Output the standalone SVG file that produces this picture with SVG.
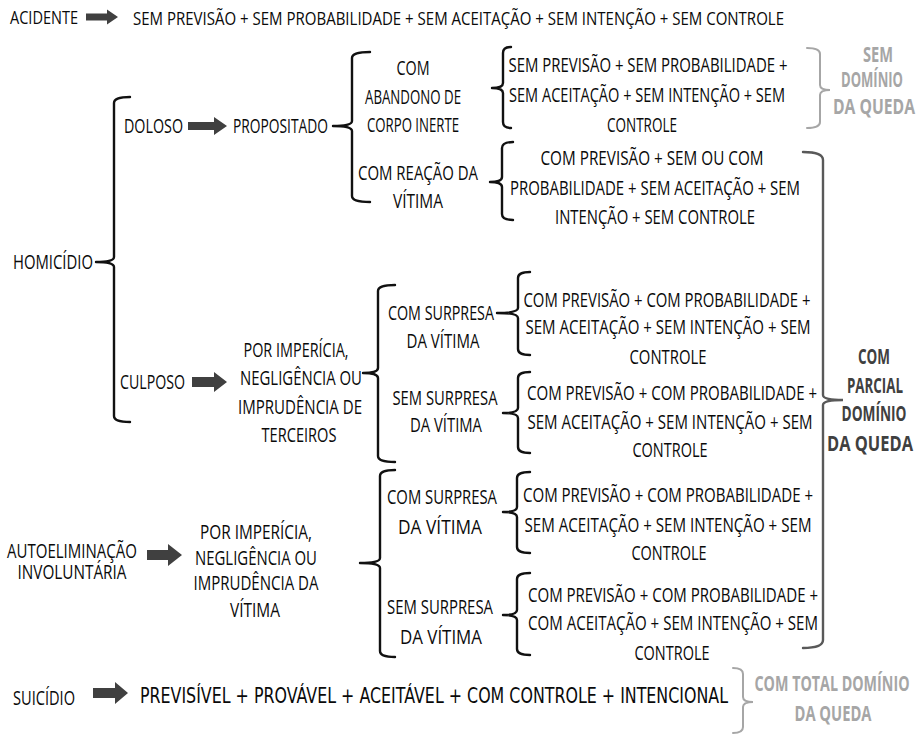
<svg xmlns="http://www.w3.org/2000/svg" width="920" height="736" viewBox="0 0 920 736">
<style>
.t{font-family:"Open Sans","Noto Sans","Liberation Sans",sans-serif;font-size:19.5px;fill:#0a0a0a}
.s{font-size:19px}
.c{text-anchor:middle}
.w{font-family:"DejaVu Sans","Liberation Sans",sans-serif;font-size:20.5px;fill:#0a0a0a}
.gl{font-family:"Open Sans","Noto Sans","Liberation Sans",sans-serif;font-weight:bold;font-size:20.5px;fill:#a6a6a6;text-anchor:middle}
.gd{font-family:"Open Sans","Noto Sans","Liberation Sans",sans-serif;font-weight:bold;font-size:20.5px;fill:#404040;text-anchor:middle}
.br{fill:none;stroke:#111;stroke-width:2.4;stroke-linecap:round;stroke-linejoin:round}
.bgl{fill:none;stroke:#a6a6a6;stroke-width:2;stroke-linecap:round}
.bgd{fill:none;stroke:#595959;stroke-width:2.4;stroke-linecap:round}
.ar{fill:#404040}
</style>
<rect width="920" height="736" fill="#fff"/>
<g id="connectors">
<path class="ar" d="M86 13.5 H107 V9.5 L118 17 L107 24.5 V20.5 H86 Z"/>
<path class="ar" d="M188 122 H214 V117 L227 126 L214 135 V130 H188 Z"/>
<path class="ar" d="M192 377 H214 V372 L227 382 L214 392 V387 H192 Z"/>
<path class="ar" d="M147 550 H168 V544 L182 555 L168 566 V560 H147 Z"/>
<path class="ar" d="M93 688 H115 V682 L128 693 L115 704 V698 H93 Z"/>
<path class="br" d="M130 97 Q114 97 114 103 V257 Q114 262 96 262 Q114 262 114 267 V416 Q114 422 130 422"/>
<path class="br" d="M370 52 Q352 52 352 58 V121 Q352 126 333 126 Q352 126 352 131 V196 Q352 202 370 202"/>
<path class="br" d="M511 47 Q503 47 503 53 V83 Q503 88 492 88 Q503 88 503 93 V122 Q503 128 511 128"/>
<path class="br" d="M513 142 Q502 142 502 148 V177 Q502 182 490 182 Q502 182 502 187 V214 Q502 220 513 220"/>
<path class="br" d="M395 285 Q378 285 378 291 V368 Q378 373 363 373 Q378 373 378 378 V456 Q378 462 395 462"/>
<path class="br" d="M530 272 Q518 272 518 278 V308 Q518 313 497 313 Q518 313 518 318 V349 Q518 355 530 355"/>
<path class="br" d="M530 372 Q518 372 518 378 V408 Q518 413 503 413 Q518 413 518 418 V447 Q518 453 530 453"/>
<path class="br" d="M395 470 Q380 470 380 476 V558 Q380 563 360 563 Q380 563 380 568 V651 Q380 657 395 657"/>
<path class="br" d="M530 472 Q517 472 517 478 V507 Q517 512 503 512 Q517 512 517 517 V547 Q517 553 530 553"/>
<path class="br" d="M530 573 Q517 573 517 579 V610 Q517 615 503 615 Q517 615 517 620 V649 Q517 655 530 655"/>
<path class="bgl" d="M807 48 Q820 48 820 54 V85 Q820 90 830 90 Q820 90 820 95 V122 Q820 128 807 128"/>
<path class="bgd" d="M803 152 Q823 152 823 160 V395 Q823 400 843 400 Q823 400 823 405 V640 Q823 648 803 648"/>
<path class="bgl" d="M733 668 Q743 668 743 674 V697 Q743 702 753 702 Q743 702 743 707 V727 Q743 733 733 733"/>
</g>
<g id="acidente">
<text class="t s" x="10" y="24" textLength="68" lengthAdjust="spacingAndGlyphs">ACIDENTE</text>
</g>
<g id="acidente-desc">
<text class="t s" x="133" y="24.5" textLength="651" lengthAdjust="spacingAndGlyphs">SEM PREVISÃO + SEM PROBABILIDADE + SEM ACEITAÇÃO + SEM INTENÇÃO + SEM CONTROLE</text>
</g>
<g id="homicidio">
<text class="t" x="13" y="269" textLength="80" lengthAdjust="spacingAndGlyphs">HOMICÍDIO</text>
</g>
<g id="doloso">
<text class="t" x="124" y="132.5" textLength="59" lengthAdjust="spacingAndGlyphs">DOLOSO</text>
</g>
<g id="propositado">
<text class="t" x="233" y="132.5" textLength="95" lengthAdjust="spacingAndGlyphs">PROPOSITADO</text>
</g>
<g id="abandono">
<text class="t c" x="413" y="75" textLength="33" lengthAdjust="spacingAndGlyphs">COM</text>
<text class="t c" x="413" y="104" textLength="96" lengthAdjust="spacingAndGlyphs">ABANDONO DE</text>
<text class="t c" x="413" y="132" textLength="92" lengthAdjust="spacingAndGlyphs">CORPO INERTE</text>
</g>
<g id="reacao">
<text class="t c" x="418" y="180" textLength="120" lengthAdjust="spacingAndGlyphs">COM REAÇÃO DA</text>
<text class="t c" x="418" y="208" textLength="50" lengthAdjust="spacingAndGlyphs">VÍTIMA</text>
</g>
<g id="abandono-desc">
<text class="t c" x="648" y="72" textLength="279" lengthAdjust="spacingAndGlyphs">SEM PREVISÃO + SEM PROBABILIDADE +</text>
<text class="t c" x="647" y="102" textLength="276" lengthAdjust="spacingAndGlyphs">SEM ACEITAÇÃO + SEM INTENÇÃO + SEM</text>
<text class="t c" x="642" y="132" textLength="70" lengthAdjust="spacingAndGlyphs">CONTROLE</text>
</g>
<g id="reacao-desc">
<text class="t c" x="652" y="165" textLength="223" lengthAdjust="spacingAndGlyphs">COM PREVISÃO + SEM OU COM</text>
<text class="t c" x="655" y="195" textLength="290" lengthAdjust="spacingAndGlyphs">PROBABILIDADE + SEM ACEITAÇÃO + SEM</text>
<text class="t c" x="655" y="224" textLength="200" lengthAdjust="spacingAndGlyphs">INTENÇÃO + SEM CONTROLE</text>
</g>
<g id="sem-dominio">
<text class="gl" x="878" y="62" textLength="30" lengthAdjust="spacingAndGlyphs">SEM</text>
<text class="gl" x="872" y="87" textLength="62" lengthAdjust="spacingAndGlyphs">DOMÍNIO</text>
<text class="gl" x="874" y="113.5" textLength="82" lengthAdjust="spacingAndGlyphs">DA QUEDA</text>
</g>
<g id="culposo">
<text class="t" x="120" y="389" textLength="65" lengthAdjust="spacingAndGlyphs">CULPOSO</text>
</g>
<g id="terceiros">
<text class="t c" x="296" y="357" textLength="105" lengthAdjust="spacingAndGlyphs">POR IMPERÍCIA,</text>
<text class="t c" x="301" y="385" textLength="122" lengthAdjust="spacingAndGlyphs">NEGLIGÊNCIA OU</text>
<text class="t c" x="300" y="414" textLength="124" lengthAdjust="spacingAndGlyphs">IMPRUDÊNCIA DE</text>
<text class="t c" x="299" y="442" textLength="75" lengthAdjust="spacingAndGlyphs">TERCEIROS</text>
</g>
<g id="culp-com-surpresa">
<text class="t c" x="441" y="319.5" textLength="106" lengthAdjust="spacingAndGlyphs">COM SURPRESA</text>
<text class="t c" x="443" y="348" textLength="73" lengthAdjust="spacingAndGlyphs">DA VÍTIMA</text>
</g>
<g id="culp-sem-surpresa">
<text class="t c" x="445" y="404.5" textLength="105" lengthAdjust="spacingAndGlyphs">SEM SURPRESA</text>
<text class="t c" x="446" y="432" textLength="72" lengthAdjust="spacingAndGlyphs">DA VÍTIMA</text>
</g>
<g id="culp-com-desc">
<text class="t c" x="667" y="306.5" textLength="287" lengthAdjust="spacingAndGlyphs">COM PREVISÃO + COM PROBABILIDADE +</text>
<text class="t c" x="668" y="333.5" textLength="285" lengthAdjust="spacingAndGlyphs">SEM ACEITAÇÃO + SEM INTENÇÃO + SEM</text>
<text class="t c" x="668" y="363.5" textLength="77" lengthAdjust="spacingAndGlyphs">CONTROLE</text>
</g>
<g id="culp-sem-desc">
<text class="t c" x="672" y="400" textLength="290" lengthAdjust="spacingAndGlyphs">COM PREVISÃO + COM PROBABILIDADE +</text>
<text class="t c" x="670" y="429" textLength="285" lengthAdjust="spacingAndGlyphs">SEM ACEITAÇÃO + SEM INTENÇÃO + SEM</text>
<text class="t c" x="670" y="457" textLength="75" lengthAdjust="spacingAndGlyphs">CONTROLE</text>
</g>
<g id="com-parcial">
<text class="gd" x="874" y="364" textLength="32" lengthAdjust="spacingAndGlyphs">COM</text>
<text class="gd" x="875" y="392.5" textLength="56" lengthAdjust="spacingAndGlyphs">PARCIAL</text>
<text class="gd" x="874" y="420.5" textLength="65" lengthAdjust="spacingAndGlyphs">DOMÍNIO</text>
<text class="gd" x="870" y="450.5" textLength="86" lengthAdjust="spacingAndGlyphs">DA QUEDA</text>
</g>
<g id="autoeliminacao">
<text class="t c" x="72" y="557.5" textLength="130" lengthAdjust="spacingAndGlyphs">AUTOELIMINAÇÃO</text>
<text class="t c" x="72" y="579" textLength="109" lengthAdjust="spacingAndGlyphs">INVOLUNTÁRIA</text>
</g>
<g id="vitima-causa">
<text class="t c" x="256" y="539" textLength="112" lengthAdjust="spacingAndGlyphs">POR IMPERÍCIA,</text>
<text class="t c" x="256" y="565" textLength="122" lengthAdjust="spacingAndGlyphs">NEGLIGÊNCIA OU</text>
<text class="t c" x="256" y="590" textLength="125" lengthAdjust="spacingAndGlyphs">IMPRUDÊNCIA DA</text>
<text class="t c" x="255" y="617" textLength="50" lengthAdjust="spacingAndGlyphs">VÍTIMA</text>
</g>
<g id="auto-com-surpresa">
<text class="t c" x="442" y="504" textLength="110" lengthAdjust="spacingAndGlyphs">COM SURPRESA</text>
<text class="t c" x="440" y="534" textLength="84" lengthAdjust="spacingAndGlyphs">DA VÍTIMA</text>
</g>
<g id="auto-sem-surpresa">
<text class="t c" x="440" y="614" textLength="106" lengthAdjust="spacingAndGlyphs">SEM SURPRESA</text>
<text class="t c" x="441" y="644" textLength="82" lengthAdjust="spacingAndGlyphs">DA VÍTIMA</text>
</g>
<g id="auto-com-desc">
<text class="t c" x="668" y="502" textLength="290" lengthAdjust="spacingAndGlyphs">COM PREVISÃO + COM PROBABILIDADE +</text>
<text class="t c" x="668" y="532" textLength="287" lengthAdjust="spacingAndGlyphs">SEM ACEITAÇÃO + SEM INTENÇÃO + SEM</text>
<text class="t c" x="669" y="560" textLength="75" lengthAdjust="spacingAndGlyphs">CONTROLE</text>
</g>
<g id="auto-sem-desc">
<text class="t c" x="673" y="602" textLength="290" lengthAdjust="spacingAndGlyphs">COM PREVISÃO + COM PROBABILIDADE +</text>
<text class="t c" x="673" y="630" textLength="290" lengthAdjust="spacingAndGlyphs">COM ACEITAÇÃO + SEM INTENÇÃO + SEM</text>
<text class="t c" x="672" y="660" textLength="75" lengthAdjust="spacingAndGlyphs">CONTROLE</text>
</g>
<g id="suicidio">
<text class="t" x="13" y="705" textLength="62" lengthAdjust="spacingAndGlyphs">SUICÍDIO</text>
</g>
<g id="suicidio-desc">
<text class="w" x="140" y="702.5" textLength="588" lengthAdjust="spacingAndGlyphs">PREVISÍVEL + PROVÁVEL + ACEITÁVEL + COM CONTROLE + INTENCIONAL</text>
</g>
<g id="com-total">
<text class="gl" x="832" y="690.5" textLength="155" lengthAdjust="spacingAndGlyphs">COM TOTAL DOMÍNIO</text>
<text class="gl" x="833" y="720.5" textLength="77" lengthAdjust="spacingAndGlyphs">DA QUEDA</text>
</g>
</svg>
